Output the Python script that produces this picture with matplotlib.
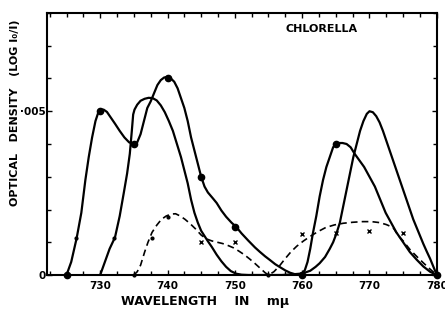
import matplotlib
matplotlib.use("Agg")
import matplotlib.pyplot as plt
from matplotlib.ticker import MultipleLocator, FixedLocator

# Кривая с точками (пики 730, 740, 765)
wl_a = [725, 725.7, 726.5, 727.2, 727.8, 728.3, 728.8, 729.3, 729.7, 730, 730.5, 731,
        731.6, 732.2, 732.9, 733.6, 734.3, 735, 735.5, 736, 736.5, 737, 737.5, 737.9,
        738.5, 739, 739.5, 740, 740.5, 741, 741.5, 742, 742.5, 743, 743.5, 744, 744.5,
        745, 745.5, 746, 746.7, 747.3, 748, 748.7, 749.5, 750.2, 751, 752, 753, 753.7,
        754.5, 755.2, 756, 756.7, 757.5, 758.2, 759, 759.6, 760, 760.4, 760.8, 761.2,
        761.6, 762.1, 762.6, 763.1, 763.6, 764.1, 764.6, 765, 765.5, 766, 766.6, 767.2,
        767.8, 768.5, 769.2, 770, 770.8, 771.6, 772.4, 773.2, 774, 775, 776, 777, 778,
        779, 780]
od_a = [0, 0.0004, 0.00112, 0.0019, 0.0029, 0.0036, 0.0042, 0.0047, 0.00495, 0.00503,
        0.00505, 0.00498, 0.0048, 0.00462, 0.0044, 0.0042, 0.00405, 0.004, 0.00405,
        0.0043, 0.0047, 0.0051, 0.0053, 0.0055, 0.0058, 0.00595, 0.00603, 0.00605, 0.006,
        0.0059, 0.0057, 0.0054, 0.0051, 0.0047, 0.0042, 0.0038, 0.0034, 0.003, 0.0027,
        0.00252, 0.00235, 0.0022, 0.00197, 0.00178, 0.0016, 0.00147, 0.00127, 0.00105,
        0.00084, 0.00071, 0.00057, 0.00046, 0.00033, 0.00024, 0.00014, 0.00007, 0.00002,
        0.00001, 0.00005, 0.00015, 0.0004, 0.0008, 0.00128, 0.0018, 0.0024, 0.0029,
        0.0033, 0.0036, 0.0039, 0.004, 0.00403, 0.00403, 0.004, 0.0039, 0.0037, 0.0035,
        0.0033, 0.003, 0.0027, 0.0023, 0.0019, 0.0016, 0.0013, 0.001, 0.0007, 0.00047,
        0.00026, 0.0001, 0]

# Кривая без точек (пики 737.5 и 770)
wl_b = [730, 730.7, 731.4, 732.2, 732.9, 733.5, 734, 734.4, 734.7, 734.9, 735.1, 735.5,
        736, 736.6, 737.2, 737.8, 738.4, 739, 739.6, 740.2, 740.8, 741.4, 742, 742.5,
        743, 743.5, 744, 744.5, 745, 746, 746.6, 747.3, 748, 748.7, 749.4, 750.2, 751,
        752, 757, 758.5, 759.7, 760.5, 761.2, 762, 762.6, 763.4, 764.1, 764.6, 765.1,
        765.6, 766.1, 766.6, 767.1, 767.6, 768.1, 768.6, 769.1, 769.6, 770, 770.5, 771,
        771.5, 772, 772.5, 773, 773.5, 774, 774.5, 775, 775.5, 776, 776.5, 777, 777.5,
        778, 778.5, 779, 779.5, 780]
od_b = [0, 0.0004, 0.0008, 0.00115, 0.0018, 0.0025, 0.0031, 0.0037, 0.0044, 0.0049,
        0.00505, 0.0052, 0.00532, 0.00538, 0.00541, 0.0054, 0.00533, 0.00518, 0.00497,
        0.0047, 0.0044, 0.004, 0.0036, 0.0032, 0.0028, 0.0023, 0.0019, 0.0016, 0.00135,
        0.00103, 0.00085, 0.00062, 0.00042, 0.00025, 0.00012, 0.00004, 0.00001, 0, 0,
        0.00002, 0.00004, 0.00008, 0.00013, 0.00025, 0.00036, 0.00055, 0.0008, 0.001,
        0.00127, 0.0016, 0.0021, 0.0026, 0.0031, 0.0036, 0.004, 0.0044, 0.0047, 0.00492,
        0.005, 0.00497, 0.00485, 0.00466, 0.0044, 0.0041, 0.0038, 0.0035, 0.0032, 0.0029,
        0.0026, 0.0023, 0.002, 0.0017, 0.00145, 0.0012, 0.00095, 0.00072, 0.0005,
        0.00025, 0]

# Пунктирная кривая
wl_c = [735, 735.5, 736, 736.6, 737.1, 737.7, 738.4, 739.1, 739.8, 740.5, 741.2, 741.9,
        742.6, 743.4, 744.2, 745, 745.8, 746.6, 747.4, 748.2, 749, 749.8, 750.6, 751.4,
        752.2, 753, 753.8, 754.5, 755, 755.8, 756.6, 757.4, 758.3, 759.2, 760.2, 761.2,
        762.3, 763.5, 764.8, 766.1, 767.5, 769, 770.3, 771.5, 772.5, 773.5, 774.3, 775,
        776, 777, 778, 779, 780]
od_c = [0, 0.0001, 0.0003, 0.0007, 0.001, 0.0013, 0.00152, 0.0017, 0.0018, 0.00186,
        0.00187, 0.0018, 0.0017, 0.00156, 0.0014, 0.00122, 0.0011, 0.00104, 0.001,
        0.00096, 0.0009, 0.00083, 0.00073, 0.00062, 0.00049, 0.00035, 0.0002, 0.00007, 0,
        0.0001, 0.00027, 0.00048, 0.0007, 0.00088, 0.00104, 0.00118, 0.00132, 0.00145,
        0.00153, 0.00158, 0.00161, 0.00163, 0.00163, 0.0016, 0.00154, 0.00145, 0.0012,
        0.00104, 0.00078, 0.00057, 0.00037, 0.00018, 0]

# Экспериментальные точки
dot_wl = [725, 730, 735, 740, 745, 750, 760, 765, 780]
dot_od = [0, 0.005, 0.004, 0.006, 0.003, 0.00147, 0, 0.004, 0]
cross_wl = [745, 750, 760, 765, 770, 775]
cross_od = [0.001, 0.001, 0.00125, 0.00128, 0.00133, 0.00129]
small_wl = [726.4, 732.1, 737.7, 740, 735, 755]
small_od = [0.00114, 0.00114, 0.00114, 0.00178, 0, 0]

fig = plt.figure(figsize=(4.45, 3.09), dpi=100)
ax = fig.add_axes([0.1056, 0.110, 0.876, 0.848])

ax.plot(wl_a, od_a, color='black', lw=1.6, solid_joinstyle='round')
ax.plot(wl_b, od_b, color='black', lw=1.6, solid_joinstyle='round')
ax.plot(wl_c, od_c, color='black', lw=1.2, linestyle=(0, (4, 2.5)))
ax.plot(dot_wl, dot_od, 'o', color='black', ms=4.5, clip_on=False)
ax.plot(cross_wl, cross_od, 'x', color='black', ms=2.5, mew=1.0)
ax.plot(small_wl, small_od, 'o', color='black', ms=2, clip_on=False)

ax.set_xlim(722.1, 780)
ax.set_ylim(0, 0.008)

ax.xaxis.set_major_locator(FixedLocator([730, 740, 750, 760, 770, 780]))
ax.xaxis.set_minor_locator(MultipleLocator(2.5))
ax.yaxis.set_major_locator(FixedLocator([0, 0.005]))
ax.yaxis.set_minor_locator(MultipleLocator(0.001))
ax.set_xticklabels(['730', '740', '750', '760', '770', '780'],
                   fontsize=7.5, fontweight='bold')
ax.set_yticklabels(['0', '·005'], fontsize=7.5, fontweight='bold')
ax.tick_params(which='both', direction='in', top=True, right=True, width=1.0)
ax.tick_params(which='major', length=3.5, pad=4)
ax.tick_params(which='minor', length=3)
ax.tick_params(axis='y', pad=1)

for s in ax.spines.values():
    s.set_linewidth(1.5)

ax.text(0.705, 0.939, 'CHLORELLA', transform=ax.transAxes, fontsize=8,
        fontweight='bold', ha='center', va='center')
fig.text(0.46, 0.004, 'WAVELENGTH    IN    mμ', fontsize=9, fontweight='bold',
         ha='center', va='bottom')
fig.text(0.034, 0.635, 'OPTICAL   DENSITY   (LOG I₀/I)', fontsize=8, fontweight='bold',
         rotation=90, ha='center', va='center')

fig.savefig('out.png', dpi=100)
